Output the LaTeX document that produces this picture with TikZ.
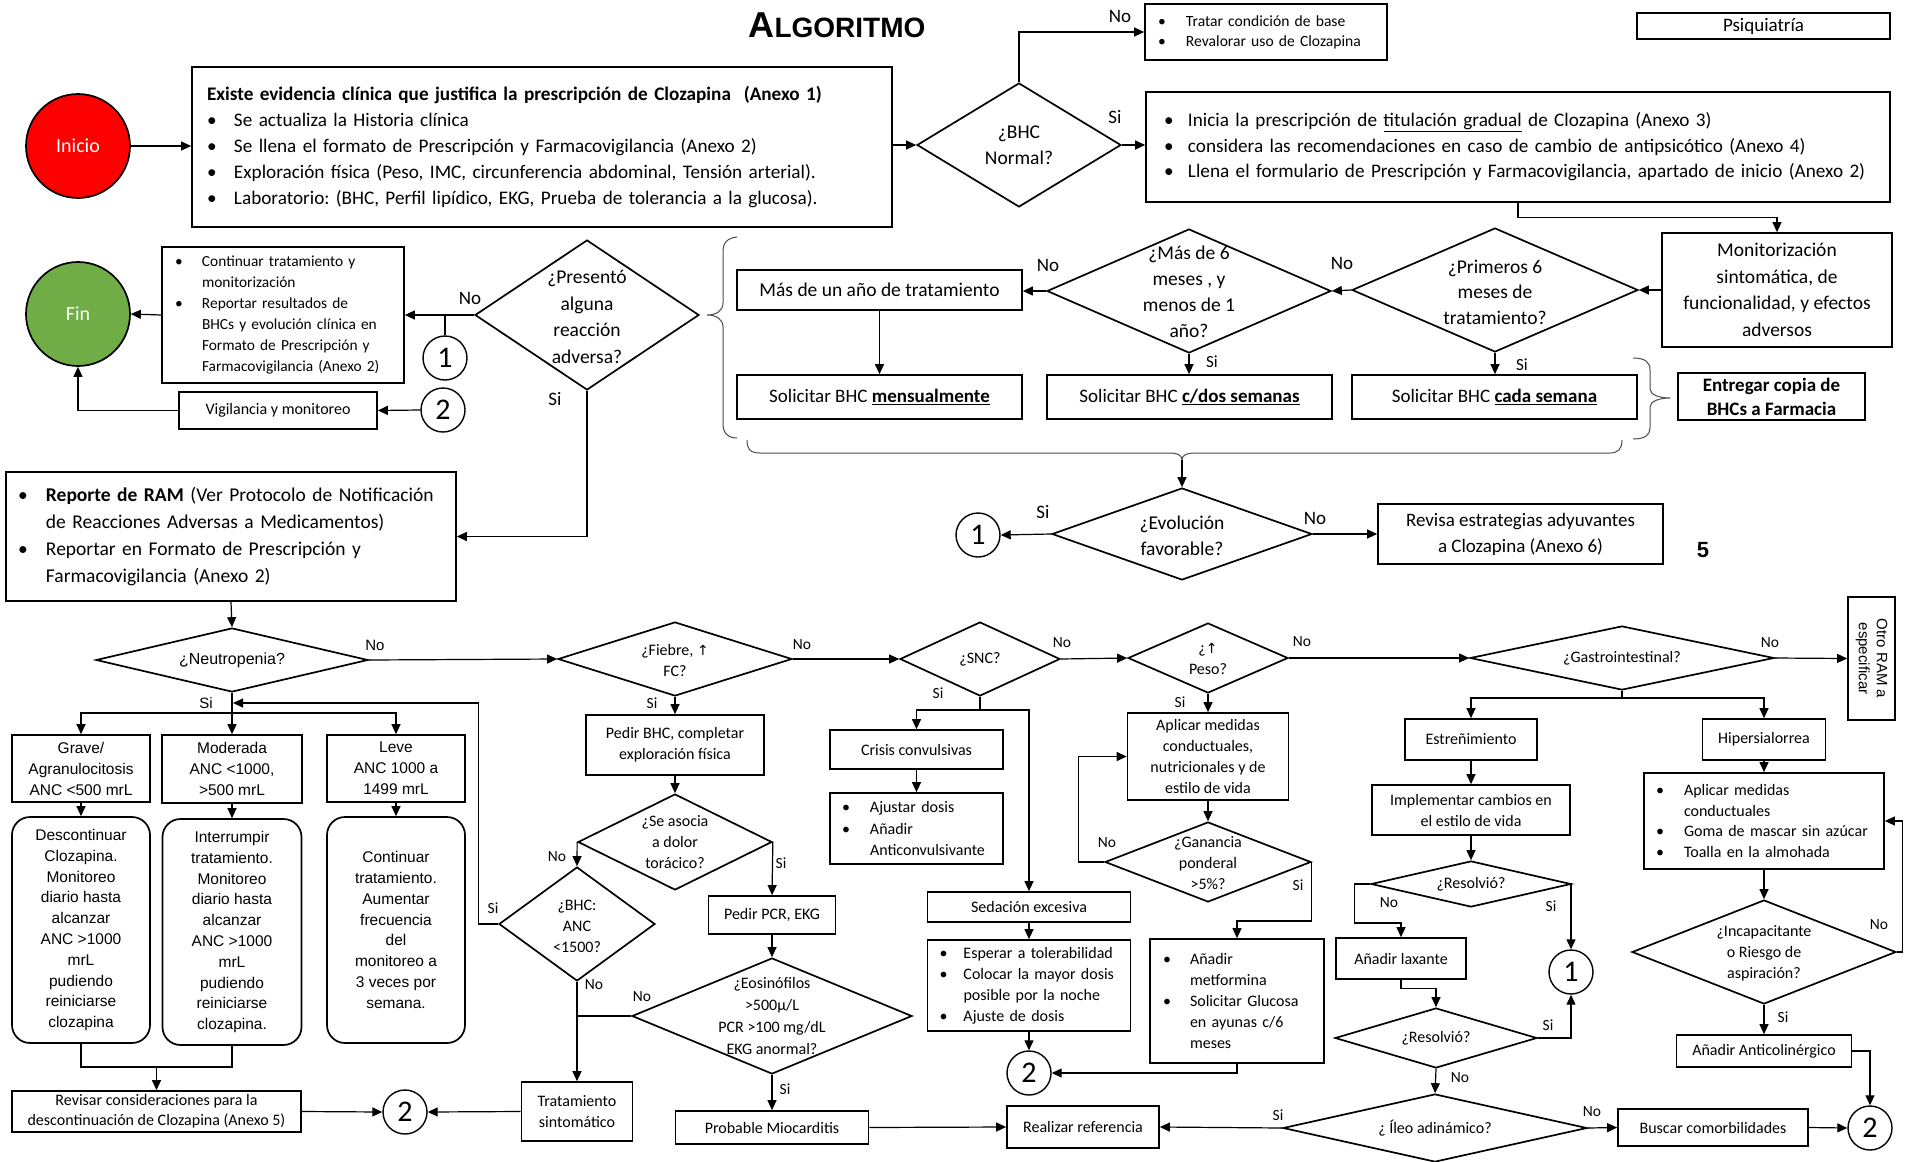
\documentclass[tikz,border=0pt]{standalone}
\usepackage{fontspec}
\setmainfont{Carlito}
\newfontfamily\arial{Liberation Sans}
\newfontfamily\dejavu{DejaVu Sans}
\usetikzlibrary{shapes.geometric,arrows.meta}
\newcommand\fs[2]{\fontsize{#1}{#2}\selectfont}
\newcommand\bl[1]{\makebox[#1][l]{•}}
\definecolor{fingreen}{RGB}{112,173,71}
\frenchspacing
\begin{document}
\begin{tikzpicture}[x=1pt,y=-1pt,
 box/.style={draw,line width=1.7pt,inner sep=0pt,align=center,font=\fs{16}{21}},
 rbox/.style={box,rounded corners=18pt,font=\arial\fs{15.5}{20.8}},
 abox/.style={box,font=\arial\fs{15.5}{21}},
 dia/.style={diamond,draw,line width=1.7pt,inner sep=0pt},
 dt/.style={align=center,inner sep=0pt,font=\fs{16}{21}},
 arr/.style={line width=1.2pt,-{Triangle[length=10pt,width=9pt]}},
 ln/.style={line width=1.2pt},
 circ/.style={circle,draw,line width=1.4pt,minimum size=44pt,inner sep=0pt,font=\fs{30}{30}},
 lblA/.style={inner sep=0pt,font=\fs{19}{19}},
 lblB/.style={inner sep=0pt,font=\fs{15.5}{16}},
 brace/.style={line width=1pt,draw=black!70}]
\fill[white] (0,0) rectangle (1912,1162);
\useasboundingbox (0,0) rectangle (1912,1162);

% ---------- top section ----------
\node[font=\arial\bfseries,inner sep=0pt] (title) at (837,25) {\fs{36}{36}A\fs{28}{28}LGORITMO};
\node[box,minimum width=253pt,minimum height=26pt,font=\fs{19}{20}] (psiq) at (1763.5,26) {Psiquiatría};

\node[circle,draw,line width=1.7pt,fill=red,minimum size=104pt,inner sep=0pt,text=white,font=\fs{20}{20}] (inicio) at (78,146) {Inicio};
\node[circle,draw,line width=1.7pt,fill=fingreen,minimum size=104pt,inner sep=0pt,text=white,font=\fs{20}{20}] (fin) at (78,314) {Fin};

\node[box,align=left,text width=670pt,inner xsep=15pt,minimum height=160pt,font=\fs{19.2}{26}] (main) at (542,147)
 {\textbf{Existe evidencia clínica que justifica la prescripción de Clozapina\ \ (Anexo 1)}\\
  \bl{27pt}Se actualiza la Historia clínica\\
  \bl{27pt}Se llena el formato de Prescripción y Farmacovigilancia (Anexo 2)\\
  \bl{27pt}Exploración física (Peso, IMC, circunferencia abdominal, Tensión arterial).\\
  \bl{27pt}Laboratorio: (BHC, Perfil lipídico, EKG, Prueba de tolerancia a la glucosa).};

\node[dia,minimum width=204pt,minimum height=124pt] (bhc) at (1019,145) {};
\node[dt,font=\fs{19.5}{26}] (bhct) at (bhc) {¿BHC\\Normal?};

\node[box,align=left,text width=216pt,inner xsep=13pt,minimum height=56pt,font=\fs{15.6}{20}] (tratar) at (1266,32)
 {\bl{28pt}Tratar condición de base\\\bl{28pt}Revalorar uso de Clozapina};

\node[box,align=left,text width=708pt,inner xsep=18pt,minimum height=110pt,font=\fs{19.2}{25.5}] (inicia) at (1518,147)
 {\bl{24pt}Inicia la prescripción de \underline{titulación gradual} de Clozapina (Anexo 3)\\
  \bl{24pt}considera las recomendaciones en caso de cambio de antipsicótico (Anexo 4)\\
  \bl{24pt}Llena el formulario de Prescripción y Farmacovigilancia, apartado de inicio (Anexo 2)};

\node[box,minimum width=230pt,minimum height=114pt,font=\fs{19.5}{26.5}] (monit) at (1777,290)
 {Monitorización\\sintomática, de\\funcionalidad, y efectos\\adversos};

\node[dia,minimum width=286pt,minimum height=124pt] (prim) at (1495,290) {};
\node[dt,font=\fs{19.5}{25.5}] (primt) at (1495,292) {¿Primeros 6\\meses de\\tratamiento?};

\node[dia,minimum width=284pt,minimum height=124pt] (mas6) at (1189,291) {};
\node[dt,font=\fs{19.5}{26}] (mas6t) at (1189,292) {¿Más de 6\\meses , y\\menos de 1\\año?};

\node[box,minimum width=285pt,minimum height=40pt,font=\fs{19.5}{24}] (masanio) at (879.5,290) {Más de un año de tratamiento};

\node[box,minimum width=285pt,minimum height=44pt,font=\fs{19}{24}] (mens) at (879.5,397) {Solicitar BHC \textbf{\underline{mensualmente}}};
\node[box,minimum width=285pt,minimum height=44pt,font=\fs{19}{24}] (dos) at (1189.5,397) {Solicitar BHC \textbf{\underline{c/dos semanas}}};
\node[box,minimum width=285pt,minimum height=44pt,font=\fs{19}{24}] (cada) at (1494.5,397) {Solicitar BHC \textbf{\underline{cada semana}}};

\node[box,minimum width=187pt,minimum height=47pt,font=\bfseries\fs{19}{24}] (entregar) at (1771.5,396.5) {Entregar copia de\\BHCs a Farmacia};

\node[dia,minimum width=224pt,minimum height=150pt] (pres) at (587,315) {};
\node[dt,font=\fs{19.5}{26.5}] (prest) at (587,317) {¿Presentó\\alguna\\reacción\\adversa?};

\node[box,align=left,text width=216pt,inner xsep=13pt,minimum height=136pt,font=\fs{15.4}{21}] (cont) at (283,315)
 {\bl{27pt}Continuar tratamiento y\\\hspace*{27pt}monitorización\\\bl{27pt}Reportar resultados de\\\hspace*{27pt}BHCs y evolución clínica en\\\hspace*{27pt}Formato de Prescripción y\\\hspace*{27pt}Farmacovigilancia (Anexo 2)};

\node[circ] (c1a) at (445,358) {1};
\node[box,minimum width=198pt,minimum height=37pt,font=\fs{16}{20}] (vig) at (278,410.5) {Vigilancia y monitoreo};
\node[circ] (c2a) at (443,410) {2};

\node[box,align=left,text width=426pt,inner xsep=12pt,minimum height=129pt,font=\fs{19.5}{26.7}] (ram) at (231,536.5)
 {\bl{28pt}\textbf{Reporte de RAM} (Ver Protocolo de Notificación\\\hspace*{28pt}de Reacciones Adversas a Medicamentos)\\\bl{28pt}Reportar en Formato de Prescripción y\\\hspace*{28pt}Farmacovigilancia (Anexo 2)};

\node[dia,minimum width=260pt,minimum height=92pt] (evol) at (1182,534) {};
\node[dt,font=\fs{19.5}{26}] (evolt) at (1182,536) {¿Evolución\\favorable?};
\node[circ] (c1b) at (978,535) {1};
\node[box,minimum width=285pt,minimum height=60pt,font=\fs{19}{26}] (revisa) at (1520.5,534) {Revisa estrategias adyuvantes\\a Clozapina (Anexo 6)};
\node[font=\arial\bfseries\fs{22}{22},inner sep=0pt] (five) at (1703,550) {5};

% braces
\draw[brace] (737,237) .. controls (727,238) and (723,243) .. (723,252) -- (723,303) .. controls (723,311) and (716,315) .. (707,315) .. controls (716,315) and (723,319) .. (723,327) -- (723,424) .. controls (723,433) and (728,438) .. (737,438);
\draw[brace] (1633,358) .. controls (1645,358) and (1650,362) .. (1650,370) -- (1650,389) .. controls (1650,395) and (1660,398) .. (1670,398) .. controls (1660,398) and (1650,401) .. (1650,407) -- (1650,428) .. controls (1650,435) and (1645,439) .. (1633,439);
\draw[brace] (747,440) .. controls (747,449) and (750,453) .. (760,453) -- (1170,453) .. controls (1177,453) and (1182,455) .. (1182,460) .. controls (1182,455) and (1187,453) .. (1194,453) -- (1610,453) .. controls (1618,453) and (1622,449) .. (1622,440);
\coordinate (bt) at (1182,460);

% top connectors
\draw[arr] (inicio.east) -- (inicio.east -| main.west);
\draw[arr] (main.east |- bhc.west) -- (bhc.west);
\draw[arr] (bhc.north) |- (tratar.west);
\draw[arr] (bhc.east) -- (inicia.west |- bhc.east);
\draw[arr] (inicia.south) -- ++(0,15) -| (monit.north);
\draw[arr] (monit.west) -- (prim.east);
\draw[arr] (prim.west) -- (mas6.east);
\draw[arr] (mas6.west) -- (masanio.east |- mas6.west);
\draw[arr] (mas6.south) -- (mas6.south |- dos.north);
\draw[arr] (prim.south) -- (prim.south |- cada.north);
\draw[arr] (masanio.south) -- (mens.north);
\draw[arr] (bt) -- (evol.north);
\draw[arr] (evol.west) -- (c1b.east);
\draw[arr] (evol.east) -- (revisa.west |- evol.east);
\draw[arr] (pres.west) -- (cont.east |- pres.west);
\draw[ln] (c1a.north) -- (c1a.north |- pres.west);
\draw[arr] (cont.west) -- (fin.east);
\draw[arr] (c2a.west) -- (vig.east);
\draw[arr] (vig.west) -| (fin.south);
\draw[arr] (pres.south) |- (ram.east);

% top labels
\node[lblA] (l1) at (1120,16) {No};
\node[lblA] (l2) at (1115,117) {Si};
\node[lblA] (l3) at (1048,265) {No};
\node[lblA] (l4) at (1342,263) {No};
\node[lblA,font=\fs{17}{17}] (l5) at (1212,362) {Si};
\node[lblA,font=\fs{17}{17}] (l6) at (1522,365) {Si};
\node[lblA] (l7) at (470,298) {No};
\node[lblA] (l8) at (555,399) {Si};
\node[lblA] (l9) at (1043,512) {Si};
\node[lblA] (l10) at (1315,518) {No};

% ---------- neutropenia ----------
\node[dia,minimum width=272pt,minimum height=64pt] (neut) at (232,660) {};
\node[dt,font=\arial\fs{16}{20}] (neutt) at (neut) {¿Neutropenia?};
\node[abox,minimum width=138pt,minimum height=67pt] (grave) at (81,768.5) {Grave/\\Agranulocitosis\\ANC <500 mrL};
\node[abox,minimum width=140pt,minimum height=68pt] (mod) at (232,769) {Moderada\\ANC <1000,\\>500 mrL};
\node[abox,minimum width=138pt,minimum height=67pt] (leve) at (396,768.5) {Leve\\ANC 1000 a\\1499 mrL};
\node[rbox,minimum width=138pt,minimum height=226pt] (desc) at (81,930) {Descontinuar\\Clozapina.\\Monitoreo\\diario hasta\\alcanzar\\ANC >1000\\mrL\\pudiendo\\reiniciarse\\clozapina};
\node[rbox,minimum width=139pt,minimum height=226pt] (inter) at (232,932) {Interrumpir\\tratamiento.\\Monitoreo\\diario hasta\\alcanzar\\ANC >1000\\mrL\\pudiendo\\reiniciarse\\clozapina.};
\node[rbox,minimum width=138pt,minimum height=226pt] (contb) at (396,930) {Continuar\\tratamiento.\\Aumentar\\frecuencia\\del\\monitoreo a\\3 veces por\\semana.};
\node[box,minimum width=289pt,minimum height=41pt,font=\fs{16}{20}] (revisar) at (156.5,1111.5) {Revisar consideraciones para la\\descontinuación de Clozapina (Anexo 5)};
\node[circ] (c2b) at (405,1112) {2};

\draw[arr] (ram.south) -- (neut.north);
\coordinate (nj) at (232,713);
\coordinate (nsj) at (233,703);
\draw[ln] (neut.south) -- (nj);
\draw[arr] (nj) -| (grave.north);
\draw[arr] (nj) -| (leve.north);
\draw[arr] (nj) -- (mod.north);
\draw[arr] (grave.south) -- (desc.north);
\draw[arr] (mod.south) -- (inter.north);
\draw[arr] (leve.south) -- (contb.north);
\coordinate (dj) at (156.5,1067);
\draw[ln] (desc.south) |- (dj) -| (inter.south);
\draw[arr] (dj) -- (revisar.north);
\draw[arr] (revisar.east) -- (c2b.west);

% ---------- fiebre ----------
\node[dia,minimum width=234pt,minimum height=74pt] (fieb) at (675,659) {};
\node[dt] (fiebt) at (675,660) {¿Fiebre, {\dejavu\fs{14}{14}↑}\\FC?};
\node[box,minimum width=178pt,minimum height=60pt] (pbhc) at (675,745) {Pedir BHC, completar\\exploración física};
\node[dia,minimum width=194pt,minimum height=96pt] (seas) at (675,842) {};
\node[dt] (seast) at (seas) {¿Se asocia\\a dolor\\torácico?};
\node[dia,minimum width=156pt,minimum height=114pt] (bhcd) at (577,924) {};
\node[dt] (bhcdt) at (577,926) {¿BHC:\\ANC\\<1500?};
\node[box,minimum width=127pt,minimum height=38pt] (ppcr) at (772,915) {Pedir PCR, EKG};
\node[dia,minimum width=280pt,minimum height=116pt] (eos) at (772,1016) {};
\node[dt,font=\fs{16}{22}] (eost) at (772,1016) {¿Eosinófilos\\>500µ/L\\PCR >100 mg/dL\\EKG anormal?};
\node[box,minimum width=111pt,minimum height=59pt] (trat) at (577,1111.5) {Tratamiento\\sintomático};
\node[box,minimum width=193pt,minimum height=33pt] (prob) at (772,1127.5) {Probable Miocarditis};

\draw[arr] (neut.east) -- (fieb.west);
\draw[arr] (fieb.south) -- (pbhc.north);
\draw[arr] (pbhc.south) -- (seas.north);
\draw[arr] (seas.west) -- (bhcd.north);
\draw[arr] (seas.east) -- (ppcr.north);
\draw[arr] (ppcr.south) -- (eos.north);
\draw[arr] (bhcd.south) -- (trat.north);
\draw[ln] (eos.west) -- (eos.west -| bhcd.south);
\draw[arr] (eos.south) -- (prob.north);
\draw[arr] (bhcd.west) -- ++(-20,0) |- (nsj);
\draw[arr] (trat.west) -- (c2b.east);

% ---------- SNC ----------
\node[dia,minimum width=160pt,minimum height=74pt] (snc) at (980,659) {};
\node[dt] (snct) at (snc) {¿SNC?};
\node[box,minimum width=173pt,minimum height=39pt] (crisis) at (916.5,749.5) {Crisis convulsivas};
\node[box,align=left,text width=149pt,inner xsep=12pt,minimum height=71pt,font=\fs{16}{21.5}] (ajus) at (916.5,828.5)
 {\bl{28pt}Ajustar dosis\\\bl{28pt}Añadir\\\hspace*{28pt}Anticonvulsivante};
\node[box,minimum width=203pt,minimum height=30pt] (sed) at (1029,907) {Sedación excesiva};
\node[box,align=left,text width=179pt,inner xsep=12pt,minimum height=91pt,font=\fs{16}{21}] (esp) at (1029,985.5)
 {\bl{24pt}Esperar a tolerabilidad\\\bl{24pt}Colocar la mayor dosis\\\hspace*{24pt}posible por la noche\\\bl{24pt}Ajuste de dosis};
\node[circ] (c2c) at (1029,1073) {2};
\node[box,minimum width=152pt,minimum height=42pt] (real) at (1083,1127) {Realizar referencia};

\draw[arr] (fieb.east) -- (snc.west);
\coordinate (sj) at (980,710);
\draw[ln] (snc.south) -- (sj);
\draw[arr] (sj) -| (crisis.north);
\draw[arr] (sj) -| (sed.north);
\draw[arr] (crisis.south) -- (ajus.north);
\draw[arr] (sed.south) -- (esp.north);
\draw[arr] (esp.south) -- (c2c.north);
\draw[arr] (prob.east) -- (real.west);

% ---------- peso ----------
\node[dia,minimum width=160pt,minimum height=70pt] (peso) at (1208,658) {};
\node[dt] (pesot) at (1208,659) {¿{\dejavu\fs{14}{14}↑}\\Peso?};
\node[box,minimum width=161pt,minimum height=87pt] (aplp) at (1208,756.5) {Aplicar medidas\\conductuales,\\nutricionales y de\\estilo de vida};
\node[dia,minimum width=206pt,minimum height=80pt] (gan) at (1208,862) {};
\node[dt] (gant) at (1208,863) {¿Ganancia\\ponderal\\>5\%?};
\node[box,align=left,text width=148pt,inner xsep=13pt,minimum height=124pt,font=\fs{16}{21}] (metf) at (1237,1001)
 {\bl{27pt}Añadir\\\hspace*{27pt}metformina\\\bl{27pt}Solicitar Glucosa\\\hspace*{27pt}en ayunas c/6\\\hspace*{27pt}meses};

\draw[arr] (snc.east) -- (peso.west);
\draw[arr] (peso.south) -- (aplp.north);
\draw[arr] (aplp.south) -- (gan.north);
\draw[arr] (gan.west) -- ++(-26,0) |- (aplp.west);
\draw[arr] (gan.east) -- ++(0,59) -| (metf.north);
\draw[arr] (metf.south) |- (c2c.east);

% ---------- gastrointestinal ----------
\node[dia,minimum width=304pt,minimum height=64pt] (gast) at (1622,658) {};
\node[dt] (gastt) at (gast) {¿Gastrointestinal?};
\node[box,minimum width=47pt,minimum height=123pt] (otro) at (1871.5,658.5) {};
\node[rotate=-90,align=center,inner sep=0pt,font=\arial\fs{15}{18}] (otrot) at (otro) {Otro RAM a\\especificar};
\node[box,minimum width=132pt,minimum height=41pt] (estr) at (1471,739.5) {Estreñimiento};
\node[box,minimum width=123pt,minimum height=41pt] (hiper) at (1764,739.5) {Hipersialorrea};
\node[box,minimum width=198pt,minimum height=50pt] (impl) at (1471,810) {Implementar cambios en\\el estilo de vida};
\node[dia,minimum width=200pt,minimum height=46pt] (res1) at (1471,884) {};
\node[dt] (res1t) at (res1) {¿Resolvió?};
\node[box,minimum width=130pt,minimum height=41pt] (lax) at (1401,958.5) {Añadir laxante};
\node[dia,minimum width=202pt,minimum height=60pt] (res2) at (1436,1038) {};
\node[dt] (res2t) at (res2) {¿Resolvió?};
\node[circ] (c1c) at (1571,972) {1};
\node[dia,minimum width=304pt,minimum height=68pt] (ileo) at (1435,1128) {};
\node[dt] (ileot) at (ileo) {¿ Íleo adinámico?};
\node[box,minimum width=190pt,minimum height=37pt] (busc) at (1713,1127.5) {Buscar comorbilidades};
\node[circ] (c2d) at (1870,1128) {2};
\node[box,align=left,text width=216pt,inner xsep=12pt,minimum height=96pt,font=\fs{16}{20.7}] (aplh) at (1764,821)
 {\bl{28pt}Aplicar medidas\\\hspace*{28pt}conductuales\\\bl{28pt}Goma de mascar sin azúcar\\\bl{28pt}Toalla en la almohada};
\node[dia,minimum width=264pt,minimum height=104pt] (inc) at (1764,952) {};
\node[dt] (inct) at (1764,953) {¿Incapacitante\\o Riesgo de\\aspiración?};
\node[box,minimum width=175pt,minimum height=32pt] (antic) at (1764,1051) {Añadir Anticolinérgico};

\draw[arr] (peso.east) -- (gast.west);
\draw[arr] (gast.east) -- (otro.west);
\coordinate (gj) at (1622,698);
\draw[ln] (gast.south) -- (gj);
\draw[arr] (gj) -| (estr.north);
\draw[arr] (gj) -| (hiper.north);
\draw[arr] (estr.south) -- (impl.north);
\draw[arr] (impl.south) -- (res1.north);
\draw[arr] (res1.east) -| (c1c.north);
\draw[arr] (res1.west) -- ++(-16,0) -- ++(0,39) -| (lax.north);
\draw[arr] (lax.south) -- ++(0,9) -| (res2.north);
\draw[arr] (res2.east) -| (c1c.south);
\draw[arr] (res2.south) -- (ileo.north);
\draw[arr] (ileo.west) -- (real.east);
\draw[arr] (ileo.east) -- (busc.west);
\draw[arr] (busc.east) -- (c2d.west);
\draw[arr] (hiper.south) -- (aplh.north);
\draw[arr] (aplh.south) -- (inc.north);
\draw[arr] (inc.east) -- ++(6,0) |- (aplh.east);
\draw[arr] (inc.south) -- (antic.north);
\draw[arr] (antic.east) -| (c2d.north);

% lower labels
\node[lblB,font=\arial\fs{15}{16}] (m1) at (375,645) {No};
\node[lblB,font=\arial\fs{15}{16}] (m2) at (206,703) {Si};
\node[lblB] (m3) at (802,645) {No};
\node[lblB] (m4) at (652,703) {Si};
\node[lblB] (m5) at (557,857) {No};
\node[lblB] (m6) at (781,863) {Si};
\node[lblB] (m7) at (493,908) {Si};
\node[lblB] (m8) at (594,985) {No};
\node[lblB] (m9) at (642,997) {No};
\node[lblB] (m10) at (785,1089) {Si};
\node[lblB] (m11) at (938,693) {Si};
\node[lblB] (m12) at (1062,643) {No};
\node[lblB] (m13) at (1302,642) {No};
\node[lblB] (m14) at (1180,702) {Si};
\node[lblB] (m15) at (1107,843) {No};
\node[lblB] (m16) at (1298,885) {Si};
\node[lblB] (m17) at (1770,643) {No};
\node[lblB] (m18) at (1389,903) {No};
\node[lblB] (m19) at (1551,906) {Si};
\node[lblB] (m20) at (1548,1025) {Si};
\node[lblB] (m21) at (1460,1078) {No};
\node[lblB] (m22) at (1278,1115) {Si};
\node[lblB] (m23) at (1592,1112) {No};
\node[lblB] (m24) at (1879,925) {No};
\node[lblB] (m25) at (1783,1017) {Si};
\end{tikzpicture}
\end{document}
